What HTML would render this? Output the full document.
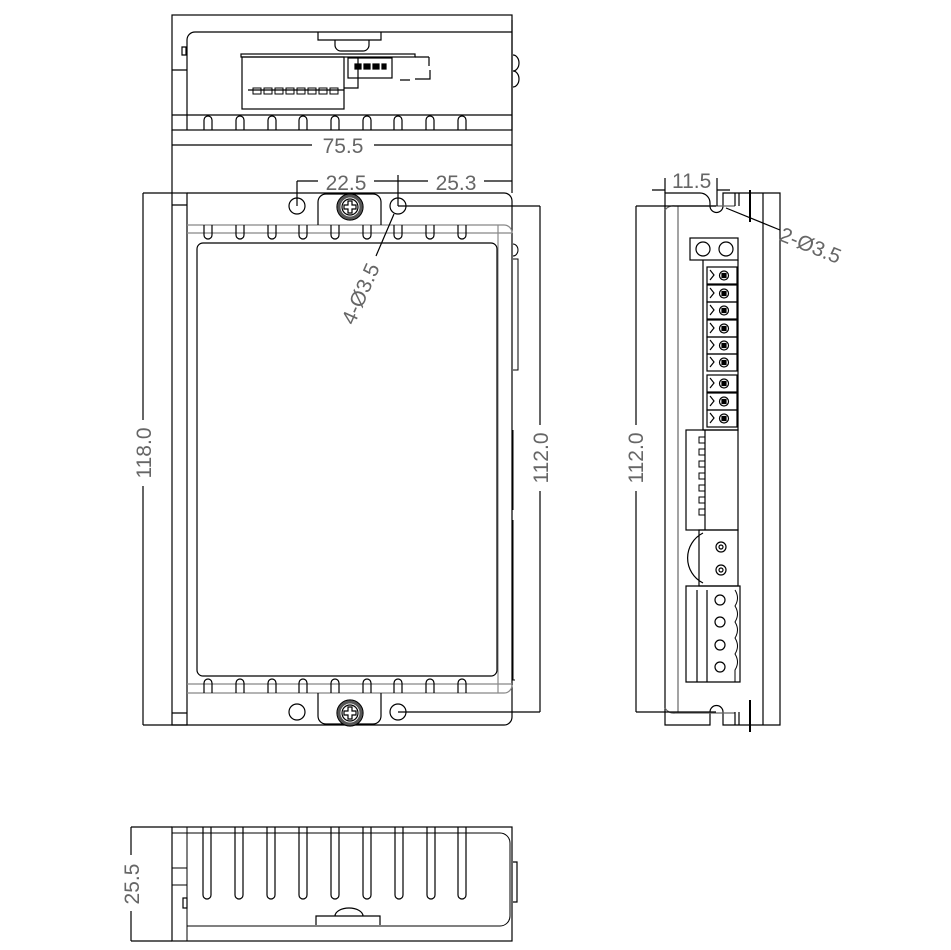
<!DOCTYPE html>
<html><head><meta charset="utf-8"><style>body{margin:0;background:#fff}svg{display:block}text{font-family:"Liberation Sans",sans-serif;font-size:21px;fill:#666;stroke:none;font-weight:normal}</style></head><body>
<svg width="951" height="950" viewBox="0 0 951 950" xmlns="http://www.w3.org/2000/svg" fill="none" stroke="#000" stroke-width="1.2">
<defs>
<g id="finT"><path d="M-4 14 V4 A4 4 0 0 1 4 4 V14"/></g>
<g id="finB"><path d="M-4 0 V10 A4 4 0 0 0 4 10 V0"/></g>
<g id="screw"><circle r="13"/><circle r="11" stroke="#555" stroke-width="3"/><circle r="8"/><path d="M-2 -6 H2 V-2 H6 V2 H2 V6 H-2 V2 H-6 V-2 H-2 Z"/></g>
<g id="term"><rect x="0" y="0" width="30" height="17"/><circle cx="17" cy="8.5" r="4.5"/><rect x="15" y="6.5" width="4" height="4" fill="#000"/><path d="M3 3 L7 8 L3 13"/></g>
</defs>
<!-- TOP VIEW -->
<rect x="172" y="15" width="340" height="115"/>
<path d="M187 130 V40 a8 8 0 0 1 8 -8 H512"/>
<path d="M172 70 H187 M172 115 H512"/>
<path d="M182 47 h4 v8 h-4z"/>
<path d="M512 20 V130"/>
<path d="M513 55 a6 8 0 0 1 0 16 a6 8 0 0 1 0 16"/>
<path d="M318 32 V40 H381 V32 M335 40 v5 a6 6 0 0 0 6 6 h22 a6 6 0 0 0 6 -6 v-5" />
<rect x="241" y="54" width="174" height="3"/>
<rect x="242" y="57" width="102" height="52"/>
<path d="M248 90 H344 M344 88 H358 V57"/>
<g stroke-width="1"><rect x="253" y="88" width="8" height="6"/><rect x="264" y="88" width="8" height="6"/><rect x="275" y="88" width="8" height="6"/><rect x="286" y="88" width="8" height="6"/><rect x="297" y="88" width="8" height="6"/><rect x="308" y="88" width="8" height="6"/><rect x="319" y="88" width="8" height="6"/><rect x="330" y="88" width="8" height="6"/></g>
<rect x="348" y="58" width="44" height="20"/>
<g fill="#000"><rect x="355" y="64" width="6" height="5"/><rect x="364" y="64" width="6" height="5"/><rect x="373" y="64" width="6" height="5"/><rect x="382" y="64" width="4" height="5"/></g>
<path d="M415 57 H429 M429 57 V66 M415 79 H430 V70 M400 80 h10"/>
<g transform="translate(0,116)"><use href="#finT" x="208"/><use href="#finT" x="240"/><use href="#finT" x="272"/><use href="#finT" x="303"/><use href="#finT" x="335"/><use href="#finT" x="367"/><use href="#finT" x="398"/><use href="#finT" x="430"/><use href="#finT" x="462"/></g>
<!-- dim 75.5 -->
<path d="M172 145 H512 M172 130 V193 M512 130 V193"/>
<rect x="312" y="134" width="62" height="22" fill="#fff" stroke="none"/>
<text x="343" y="153" text-anchor="middle">75.5</text>
<path d="M297 181 H512 M297 181 V206 M398 175 V206"/>
<rect x="318" y="168" width="56" height="22" fill="#fff" stroke="none"/><rect x="428" y="168" width="56" height="22" fill="#fff" stroke="none"/>
<text x="346" y="190" text-anchor="middle">22.5</text><text x="456" y="190" text-anchor="middle">25.3</text>
<!-- FRONT VIEW -->
<rect x="172" y="193" width="15" height="532"/>
<path d="M172 205 H187 M172 713 H187"/>
<path d="M187 193 H504 a8 8 0 0 1 8 8 V717 a8 8 0 0 1 -8 8 H187"/>
<path d="M187 225 H504 a8 8 0 0 1 8 8 M187 233 H512 M187 684 H512 M187 693 H504 a8 8 0 0 0 8 -8" stroke="#888"/>
<path d="M498 225 V693" stroke="#888"/>
<rect x="197" y="243" width="300" height="433" rx="6"/>
<path d="M318 225 V202 a8 8 0 0 1 8 -8 H373 a8 8 0 0 1 8 8 V225"/>
<path d="M318 693 V716 a8 8 0 0 0 8 8 H373 a8 8 0 0 0 8 -8 V693"/>
<circle cx="297" cy="206" r="8"/><circle cx="398" cy="206" r="8"/><circle cx="297" cy="712" r="8"/><circle cx="398" cy="712" r="8"/>
<use href="#screw" x="350" y="207"/><use href="#screw" x="350" y="713"/>
<g transform="translate(0,225)"><use href="#finB" x="208"/><use href="#finB" x="240"/><use href="#finB" x="272"/><use href="#finB" x="303"/><use href="#finB" x="335"/><use href="#finB" x="367"/><use href="#finB" x="398"/><use href="#finB" x="430"/><use href="#finB" x="462"/></g>
<g transform="translate(0,679)"><use href="#finT" x="208"/><use href="#finT" x="240"/><use href="#finT" x="272"/><use href="#finT" x="303"/><use href="#finT" x="335"/><use href="#finT" x="367"/><use href="#finT" x="398"/><use href="#finT" x="430"/><use href="#finT" x="462"/></g>
<path d="M513 244 a5 6 0 0 1 0 12 M513 259 H518 V370 H513 M513 430 v80 M513 520 V680 H515" stroke-width="1"/>
<!-- dims 118/112 -->
<path d="M143 193 H172 M143 725 H187 M143 193 V725"/>
<rect x="130" y="420" width="26" height="66" fill="#fff" stroke="none"/>
<text transform="translate(151,453) rotate(-90)" text-anchor="middle">118.0</text>
<path d="M398 206 H540 M398 712 H540 M540 206 V712"/>
<rect x="527" y="425" width="26" height="66" fill="#fff" stroke="none"/>
<text transform="translate(548,458) rotate(-90)" text-anchor="middle">112.0</text>
<path d="M394 214 L376 256"/>
<text transform="translate(354,326) rotate(-66)">4-Ø3.5</text>
<!-- SIDE VIEW -->
<path d="M665 725 V193 H700 a10 10 0 0 1 10 10 V206 a6.5 6.5 0 0 0 13 0 V193 H780 V725 H723 V712 a6.5 6.5 0 0 0 -13 0 V725 Z"/>
<path d="M665 210 a10 10 0 0 1 10 -4 H735 M665 708 a10 10 0 0 0 10 5 H735" stroke="#666"/>
<path d="M678 206 V712" stroke="#666"/>
<path d="M735 193 V206 M739 193 V206 M735 712 V725 M739 712 V725 M763 193 V725"/>
<path d="M750 190 V222 M750 700 V732" stroke-width="2"/>
<rect x="690" y="238" width="48" height="22"/>
<circle cx="703" cy="249" r="7"/><circle cx="726" cy="249" r="7"/>
<path d="M703 260 V430 H738 V260"/>
<g><use href="#term" x="707" y="267"/><use href="#term" x="707" y="285"/><use href="#term" x="707" y="302"/><use href="#term" x="707" y="320"/><use href="#term" x="707" y="337"/><use href="#term" x="707" y="354"/><use href="#term" x="707" y="375"/><use href="#term" x="707" y="393"/><use href="#term" x="707" y="410"/></g>
<rect x="686" y="430" width="52" height="100"/>
<path d="M705 430 V530"/>
<g stroke-width="1"><rect x="699" y="437" width="6" height="6"/><rect x="699" y="449" width="6" height="6"/><rect x="699" y="461" width="6" height="6"/><rect x="699" y="473" width="6" height="6"/><rect x="699" y="485" width="6" height="6"/><rect x="699" y="497" width="6" height="6"/><rect x="699" y="509" width="6" height="6"/></g>
<path d="M703 533 a28 28 0 0 0 0 50"/>
<rect x="699" y="530" width="39" height="56"/>
<circle cx="721" cy="547" r="5"/><circle cx="721" cy="547" r="2"/><circle cx="721" cy="570" r="5"/><circle cx="721" cy="570" r="2"/>
<path d="M686 586 V682 H740 V586 Z M697 590 V682 M707 590 V682"/>
<g><circle cx="720" cy="600" r="5"/><circle cx="720" cy="622" r="5"/><circle cx="720" cy="645" r="5"/><circle cx="720" cy="667" r="5"/></g>
<path d="M735 590 q5 8 0 16 q5 8 0 16 q5 8 0 16 q5 8 0 16 q5 8 0 16 V682" stroke-width="1"/>
<path d="M636 206 H716 M636 712 H716 M636 206 V712"/>
<rect x="622" y="425" width="26" height="66" fill="#fff" stroke="none"/>
<text transform="translate(643,458) rotate(-90)" text-anchor="middle">112.0</text>
<path d="M665 178 V193 M717 178 V206 M652 190 H665 M717 190 H730" />
<text x="672" y="188">11.5</text>
<path d="M726 208 L780 230"/>
<text transform="translate(778,240) rotate(22)">2-Ø3.5</text>
<!-- BOTTOM VIEW -->
<rect x="172" y="827" width="340" height="114"/>
<path d="M187 827 V941 M172 833 H500 a10 10 0 0 1 10 10 M172 868 H187 M172 885 H187 M187 926 H500 a10 10 0 0 0 10 -10 V843" stroke-width="1"/>
<path d="M513 862 h4 v40 h-4"/>
<path d="M316 925 V916 H380 V925 M335 916 a14 8 0 0 1 28 0"/>
<rect x="183" y="898" width="4" height="10"/>
<g><path d="M203 827 V895 a4 4 0 0 0 8 0 V827"/><path d="M235 827 V895 a4 4 0 0 0 8 0 V827"/><path d="M267 827 V895 a4 4 0 0 0 8 0 V827"/><path d="M299 827 V895 a4 4 0 0 0 8 0 V827"/><path d="M331 827 V895 a4 4 0 0 0 8 0 V827"/><path d="M363 827 V895 a4 4 0 0 0 8 0 V827"/><path d="M395 827 V895 a4 4 0 0 0 8 0 V827"/><path d="M427 827 V895 a4 4 0 0 0 8 0 V827"/><path d="M458 827 V895 a4 4 0 0 0 8 0 V827"/></g>
<path d="M131 827 H172 M131 941 H172 M131 827 V941"/>
<rect x="118" y="855" width="26" height="56" fill="#fff" stroke="none"/>
<text transform="translate(139,884) rotate(-90)" text-anchor="middle">25.5</text>
</svg>
</body></html>
